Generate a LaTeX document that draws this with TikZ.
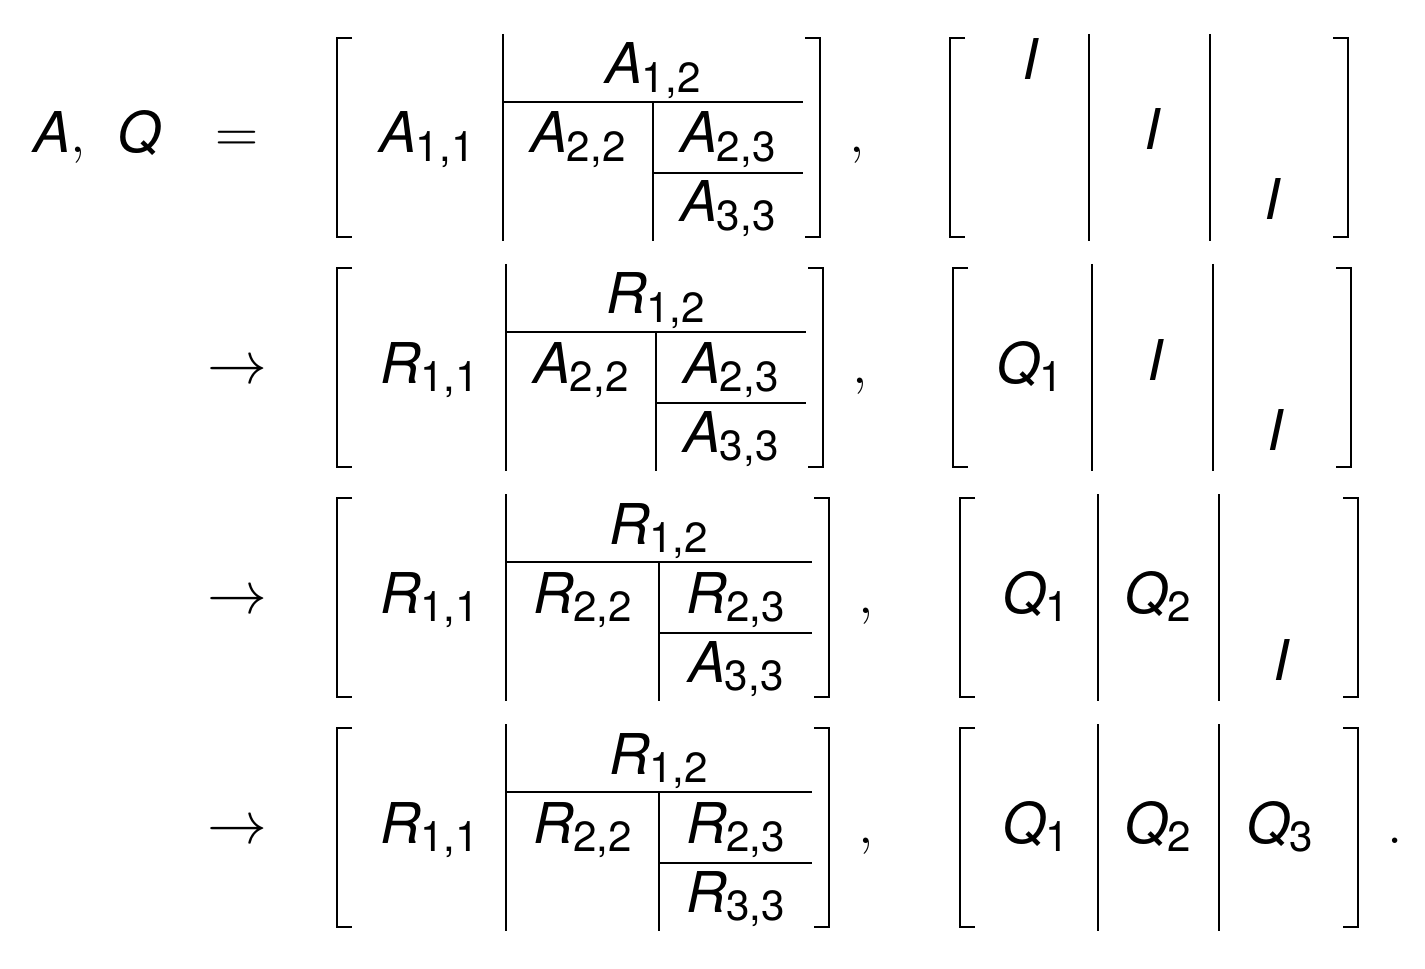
\RequirePackage{fix-cm}
\documentclass[tikz,border=0pt]{standalone}
\usepackage{fontspec}
\setmainfont{TeX Gyre Heros}
\newcommand\ssub[1]{\raisebox{-0.28ex}{\fontsize{24}{24}\selectfont #1}}
\newcommand\mv[2]{{\itshape #1}\kern-0.02em\ssub{#2}}
\tikzset{x=0.02cm,y=-0.02cm,
 br/.style={line width=1.6pt},
 ln/.style={line width=1.2pt},
 tx/.style={font=\fontsize{32}{38}\selectfont,inner sep=0pt,anchor=base},
 sy/.style={font=\fontsize{34}{40}\selectfont,inner sep=0pt,anchor=base}}
% left matrix: dy, x0 (left bracket), x1, x2, x3 (right end)
\newcommand\leftmat[5]{%
 \draw[br] (#2+15,#1+38) -- (#2,#1+38) -- (#2,#1+237) -- (#2+15,#1+237);
 \draw[br] (#5+2,#1+38) -- (#5+17,#1+38) -- (#5+17,#1+237) -- (#5+2,#1+237);
 \draw[ln] (#3,#1+34) -- (#3,#1+241);
 \draw[ln] (#3,#1+102) -- (#5,#1+102);
 \draw[ln] (#4,#1+102) -- (#4,#1+241);
 \draw[ln] (#4,#1+173) -- (#5,#1+173);}
\newcommand\rightmat[5]{%
 \draw[br] (#2+15,#1+38) -- (#2,#1+38) -- (#2,#1+237) -- (#2+15,#1+237);
 \draw[br] (#5-15,#1+38) -- (#5,#1+38) -- (#5,#1+237) -- (#5-15,#1+237);
 \draw[ln] (#3,#1+34) -- (#3,#1+241);
 \draw[ln] (#4,#1+34) -- (#4,#1+241);}
\begin{document}
\begin{tikzpicture}
\useasboundingbox (0,0) rectangle (1425,969);
% row 1
\node[tx] (aq) at (97,153) {{\itshape A}$,$\ \ {\itshape Q}};
\node[sy] (eq) at (237,153) {$=$};
\leftmat{0}{337}{503}{653}{803}
\node[tx] (a11) at (427,153) {\mv{A}{1,1}};
\node[tx] (a12) at (653,84) {\mv{A}{1,2}};
\node[tx] (a22) at (578,153) {\mv{A}{2,2}};
\node[tx] (a23) at (728,153) {\mv{A}{2,3}};
\node[tx] (a33) at (728,222) {\mv{A}{3,3}};
\node[tx] (c1) at (857,153) {$,$};
\rightmat{0}{950}{1089}{1210}{1348}
\node[tx] (i1) at (1030,80) {\itshape I};
\node[tx] (i2) at (1152,150) {\itshape I};
\node[tx] (i3) at (1272,220) {\itshape I};
% row 2
\node[sy] (ar2) at (237,383) {$\rightarrow$};
\leftmat{230}{337}{506}{656}{806}
\node[tx] (b11) at (430,383) {\mv{R}{1,1}};
\node[tx] (b12) at (656,314) {\mv{R}{1,2}};
\node[tx] (b22) at (581,383) {\mv{A}{2,2}};
\node[tx] (b23) at (731,383) {\mv{A}{2,3}};
\node[tx] (b33) at (731,452) {\mv{A}{3,3}};
\node[tx] (c2) at (860,383) {$,$};
\rightmat{230}{953}{1092}{1213}{1351}
\node[tx] (q21) at (1030,383) {\mv{Q}{1}};
\node[tx] (j2) at (1155,380) {\itshape I};
\node[tx] (j3) at (1275,450) {\itshape I};
% row 3
\node[sy] (ar3) at (237,613) {$\rightarrow$};
\leftmat{460}{337}{506}{659}{812}
\node[tx] (d11) at (430,613) {\mv{R}{1,1}};
\node[tx] (d12) at (659,544) {\mv{R}{1,2}};
\node[tx] (d22) at (583,613) {\mv{R}{2,2}};
\node[tx] (d23) at (736,613) {\mv{R}{2,3}};
\node[tx] (d33) at (736,682) {\mv{A}{3,3}};
\node[tx] (c3) at (866,613) {$,$};
\rightmat{460}{960}{1098}{1219}{1358}
\node[tx] (q31) at (1036,613) {\mv{Q}{1}};
\node[tx] (q32) at (1158,613) {\mv{Q}{2}};
\node[tx] (k3) at (1281,680) {\itshape I};
% row 4
\node[sy] (ar4) at (237,843) {$\rightarrow$};
\leftmat{690}{337}{506}{659}{812}
\node[tx] (e11) at (430,843) {\mv{R}{1,1}};
\node[tx] (e12) at (659,774) {\mv{R}{1,2}};
\node[tx] (e22) at (583,843) {\mv{R}{2,2}};
\node[tx] (e23) at (736,843) {\mv{R}{2,3}};
\node[tx] (e33) at (736,912) {\mv{R}{3,3}};
\node[tx] (c4) at (866,843) {$,$};
\rightmat{690}{960}{1098}{1219}{1358}
\node[tx] (q41) at (1036,843) {\mv{Q}{1}};
\node[tx] (q42) at (1158,843) {\mv{Q}{2}};
\node[tx] (q43) at (1280,843) {\mv{Q}{3}};
\node[tx] (dot) at (1395,843) {$.$};
\end{tikzpicture}
\end{document}
